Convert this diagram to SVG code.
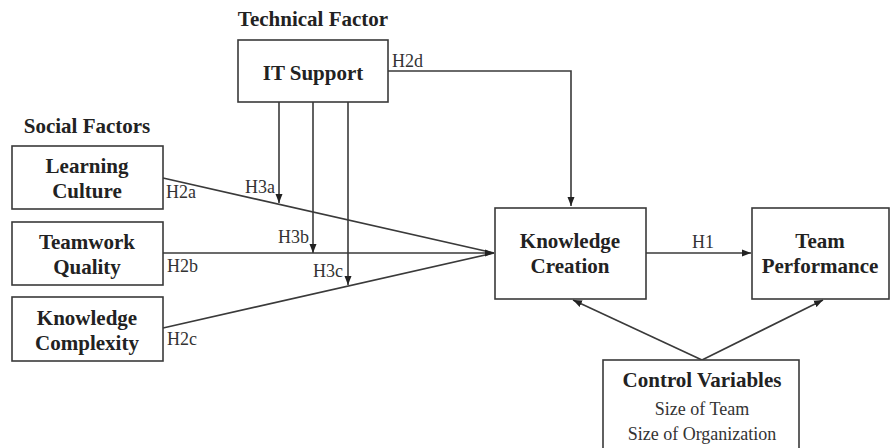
<svg xmlns="http://www.w3.org/2000/svg" width="892" height="448" viewBox="0 0 892 448">
<style>
.box{fill:#fff;stroke:#3a3a3a;stroke-width:1.6}
.b{font-weight:bold;font-size:21px;fill:#222;text-anchor:middle}
.r{font-size:18px;fill:#333}
.c{text-anchor:middle}
.ln{fill:none;stroke:#3a3a3a;stroke-width:1.6}
</style>
<defs>
<marker id="ah" markerUnits="userSpaceOnUse" markerWidth="10" markerHeight="8" refX="9" refY="4" orient="auto">
<path d="M0,0.5 L9,4 L0,7.5 z" fill="#222"/>
</marker>
</defs>
<rect width="892" height="448" fill="#fff"/>
<g font-family="'Liberation Serif', 'Times New Roman', 'DejaVu Serif', serif">
<g id="connectors">
<polyline class="ln" points="388,71 571,71 571,206" marker-end="url(#ah)"/>
<line class="ln" x1="279" y1="102" x2="279" y2="203" marker-end="url(#ah)"/>
<line class="ln" x1="313" y1="102" x2="313" y2="253" marker-end="url(#ah)"/>
<line class="ln" x1="348" y1="102" x2="348" y2="285" marker-end="url(#ah)"/>
<line class="ln" x1="163" y1="178" x2="494" y2="253"/>
<line class="ln" x1="163" y1="328" x2="494" y2="253"/>
<line class="ln" x1="163" y1="253" x2="494" y2="253" marker-end="url(#ah)"/>
<line class="ln" x1="646" y1="253" x2="751" y2="253" marker-end="url(#ah)"/>
<line class="ln" x1="702" y1="360" x2="573" y2="300" marker-end="url(#ah)"/>
<line class="ln" x1="702" y1="360" x2="823" y2="300" marker-end="url(#ah)"/>
<text class="r" x="392" y="67">H2d</text>
<text class="r" x="166" y="198">H2a</text>
<text class="r" x="167" y="272">H2b</text>
<text class="r" x="167" y="345">H2c</text>
<text class="r" x="245" y="193">H3a</text>
<text class="r" x="278" y="243">H3b</text>
<text class="r" x="313" y="277">H3c</text>
<text class="r c" x="703" y="248">H1</text>
</g>
<g id="technical-factor-label"><text class="b" x="313" y="26">Technical Factor</text></g>
<g id="social-factors-label"><text class="b" x="87" y="133">Social Factors</text></g>
<g id="it-support">
<rect class="box" x="238" y="40" width="150" height="62"/>
<text class="b" x="313" y="80">IT Support</text>
</g>
<g id="learning-culture">
<rect class="box" x="12" y="146" width="151" height="63"/>
<text class="b" x="87" y="173">Learning</text>
<text class="b" x="87" y="198">Culture</text>
</g>
<g id="teamwork-quality">
<rect class="box" x="12" y="222" width="151" height="63"/>
<text class="b" x="87" y="249">Teamwork</text>
<text class="b" x="87" y="274">Quality</text>
</g>
<g id="knowledge-complexity">
<rect class="box" x="12" y="297" width="151" height="64"/>
<text class="b" x="87" y="325">Knowledge</text>
<text class="b" x="87" y="350">Complexity</text>
</g>
<g id="knowledge-creation">
<rect class="box" x="495" y="208" width="151" height="91"/>
<text class="b" x="570" y="248">Knowledge</text>
<text class="b" x="570" y="273">Creation</text>
</g>
<g id="team-performance">
<rect class="box" x="752" y="208" width="137" height="91"/>
<text class="b" x="820" y="248">Team</text>
<text class="b" x="820" y="273">Performance</text>
</g>
<g id="control-variables">
<rect class="box" x="603" y="360" width="196" height="100"/>
<text class="b" x="702" y="387">Control Variables</text>
<text class="r c" x="702" y="415">Size of Team</text>
<text class="r c" x="702" y="440">Size of Organization</text>
</g>
</g>
</svg>
